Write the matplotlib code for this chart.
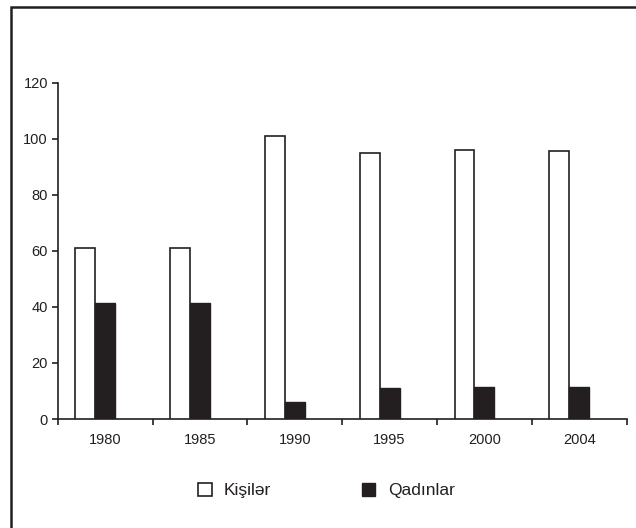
import numpy as np
import matplotlib.pyplot as plt
from matplotlib.lines import Line2D
from matplotlib.patches import Patch

years = ["1980", "1985", "1990", "1995", "2000", "2004"]
kisiler = [61, 61, 101, 95, 96, 95.5]
qadinlar = [41.5, 41.5, 6, 11, 11.5, 11.5]

INK = "#231f20"
plt.rcParams.update({"font.family": ["Liberation Sans", "DejaVu Sans"], "text.color": INK,
                     "axes.edgecolor": INK, "xtick.color": INK, "ytick.color": INK})

fig = plt.figure(figsize=(6.36, 5.28), dpi=100)
ax = fig.add_axes([0.0907, 0.2064, 0.8947, 0.637])

x = np.arange(len(years)) + 0.5
w = 0.21
ax.bar(x - 0.21, kisiler, w, color="white", edgecolor=INK, linewidth=1.2, zorder=3)
ax.bar(x, qadinlar, w, color=INK, edgecolor=INK, linewidth=1.0, zorder=3)

ax.set_xlim(0, len(years))
ax.set_ylim(0, 120)
ax.set_yticks(np.arange(0, 121, 20))
ax.set_xticks(np.arange(0, len(years) + 1))
ax.set_xticklabels([])
ax.set_xticks(x, minor=True)
ax.set_xticklabels(years, minor=True)
ax.tick_params(axis="x", which="major", direction="out", length=4, width=1.2)
ax.tick_params(axis="x", which="minor", length=0, pad=10, labelsize=10.5)
ax.tick_params(axis="y", direction="out", length=4, width=1.2, pad=3, labelsize=10.5)
for s in ["top", "right"]:
    ax.spines[s].set_visible(False)
for s in ["left", "bottom"]:
    ax.spines[s].set_linewidth(1.2)

# partial frame: left and top edges only
fx = 11 / 636
fy = 1 - 7 / 528
fig.add_artist(Line2D([fx, fx, 1], [0, fy, fy], transform=fig.transFigure,
                      color=INK, linewidth=1.8, solid_joinstyle="miter"))

fig.legend(handles=[Patch(facecolor="white", edgecolor=INK, linewidth=1.2, label="Kişilər"),
                    Patch(facecolor=INK, edgecolor=INK, label="Qadınlar")],
           loc="center", bbox_to_anchor=(0.513, 0.071), ncol=2, frameon=False,
           fontsize=12.5, handlelength=0.8, handleheight=0.8, handletextpad=0.7,
           columnspacing=5.2)

fig.savefig("out.png", dpi=100, facecolor="white")
